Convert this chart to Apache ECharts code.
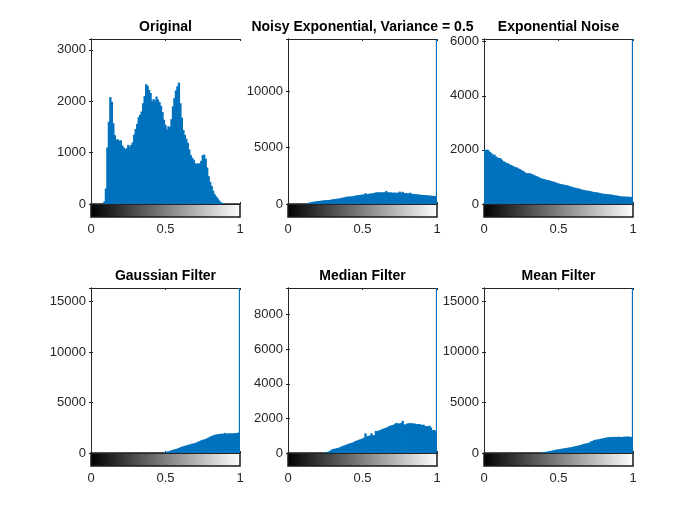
<!DOCTYPE html>
<html>
<head>
<meta charset="utf-8">
<script src="https://cdn.jsdelivr.net/npm/echarts@6/dist/echarts.min.js"></script>
<style>
  html, body { margin: 0; padding: 0; background: #fff; }
  #main { width: 700px; height: 525px; }
</style>
</head>
<body>
<div id="main"></div>
<script>
// histogram heights, one per bin (bins at 0, 0.01, ... 1)
var original = [0,0,0,0,0,0,0,0,0,
  50,300,1100,1600,2080,1990,1570,1340,1250,1260,1230,1240,1140,1100,1065,1085,1150,1110,1150,1200,1350,
  1460,1560,1690,1735,1800,1960,2100,2330,2300,2220,2160,2000,2040,2010,2090,2030,1980,1910,1790,1640,
  1540,1450,1510,1500,1650,1900,2060,2210,2290,2360,1960,1680,1440,1345,1270,1190,1060,950,900,860,
  795,780,790,790,840,950,960,880,710,540,430,350,260,190,150,115,70,40,20,8,
  0,0,0,0,0,0,0,0,0,0,0];

var noisyExp = [0,0,0,0,0,0,0,0,0,0,0,0,0,
  60,100,150,170,200,215,240,255,270,285,300,320,340,345,350,360,380,415,430,450,465,475,500,540,570,590,
  640,650,660,675,680,700,740,760,780,800,820,830,845,950,880,900,915,940,950,980,1030,1035,1030,1040,1035,
  1030,1040,1150,1035,1030,1025,1010,1000,1005,1000,995,1100,990,1080,975,960,950,940,1000,910,890,880,860,
  850,840,820,805,800,790,780,760,745,735,725,715,710,
  14630];

var expNoise = [2030,2000,2010,1990,1920,1880,1810,1830,1760,1720,1700,1690,1640,1580,1560,1520,1510,1470,1445,1420,
  1385,1370,1350,1320,1290,1260,1225,1200,1145,1140,1140,1135,1105,1090,1060,1040,1010,985,960,935,
  930,905,895,880,870,850,835,820,800,780,760,745,735,720,710,700,690,670,650,635,
  615,600,590,580,565,545,530,520,505,495,490,480,465,450,440,435,430,415,405,390,
  380,375,370,360,355,350,345,335,320,315,305,295,280,278,275,272,270,268,265,262,
  6100];

var gaussFilt = [0,0,0,0,0,0,0,0,0,0,0,0,0,0,0,0,0,0,0,0,0,0,0,0,0,
  0,0,0,0,0,0,0,0,0,0,0,0,0,0,0,0,0,0,0,0,0,0,0,0,0,
  100,130,160,210,260,320,350,400,430,495,560,620,660,710,740,800,830,880,925,950,
  985,1050,1120,1180,1250,1300,1350,1385,1460,1530,1620,1690,1740,1790,1830,1860,1880,1900,1915,1915,
  1990,1915,1920,1960,1925,1950,1960,1975,1990,2010,
  16340];

var medianFilt = [0,0,0,0,0,0,0,0,0,0,0,0,0,0,0,0,0,0,0,0,0,0,0,0,0,
  40,60,80,110,170,230,240,260,280,300,340,380,410,440,480,500,540,570,590,620,680,710,740,780,800,
  840,880,1140,960,990,1000,1140,1020,1040,1280,1260,1300,1320,1380,1400,1440,1460,1500,1560,1580,
  1610,1640,1700,1740,1690,1720,1740,1860,1640,1660,1700,1720,1720,1720,1710,1700,1680,1660,1680,1650,
  1620,1640,1560,1560,1540,1580,1480,1320,1340,1280,
  9540];

var meanFilt = [0,0,0,0,0,0,0,0,0,0,0,0,0,0,0,0,0,0,0,0,0,0,0,0,0,0,0,0,0,0,0,0,0,0,0,0,0,0,0,
  65,90,110,130,160,180,210,240,280,310,340,360,380,410,440,460,480,510,540,560,580,
  620,660,700,720,760,800,840,900,930,950,990,1060,1150,1200,1270,1310,1330,1350,1390,1420,
  1450,1480,1520,1550,1560,1580,1590,1585,1590,1585,1600,1590,1585,1590,1610,1620,1610,1630,1600,1585,
  16300];

var titles = ['Original', 'Noisy Exponential, Variance = 0.5', 'Exponential Noise',
              'Gaussian Filter', 'Median Filter', 'Mean Filter'];
var series_ = [original, noisyExp, expNoise, gaussFilt, medianFilt, meanFilt];
var yMax = [3210, 14630, 6100, 16340, 9540, 16300];
var yStep = [1000, 5000, 2000, 5000, 2000, 5000];
var xTicks = [0, 0.5, 1];

var FONT = 'Liberation Sans, Arial, Helvetica, sans-serif';
var INK = '#262626';
var BLUE = '#0072BD';
var colLeft = [91, 288, 484];
var rowTop = [39, 288];
var plotW = 149, plotH = 165, barH = 13;

var option = {
  animation: false,
  backgroundColor: '#fff',
  title: [], grid: [], xAxis: [], yAxis: [], series: []
};

// one rect per bin, half a bin either side of its centre (a hair wider so neighbours touch)
function histBar(half) {
  return function (params, api) {
    var x = api.value(0), v = api.value(1);
    if (!v) return null;
    var p0 = api.coord([x - half, v]);
    var p1 = api.coord([x + half, 0]);
    var cs = params.coordSys;
    var rect = echarts.graphic.clipRectByRect(
      { x: p0[0] - 0.4, y: p0[1], width: p1[0] - p0[0] + 0.8, height: p1[1] - p0[1] },
      { x: cs.x, y: cs.y, width: cs.width, height: cs.height });
    if (!rect) return null;
    return { type: 'rect', shape: rect, style: { fill: BLUE } };
  };
}

series_.forEach(function (vals, k) {
  var left = colLeft[k % 3];
  var top = rowTop[Math.floor(k / 3)];
  var n = vals.length;
  var pts = vals.map(function (v, i) { return [i / (n - 1), v]; });

  option.title.push({
    text: titles[k], left: left + plotW / 2, top: top - 19, textAlign: 'center', padding: 0,
    textStyle: { fontFamily: FONT, fontSize: 14, fontWeight: 'bold', color: '#000' }
  });

  var gHist = option.grid.length;
  option.grid.push({ left: left, top: top, width: plotW, height: plotH, outerBoundsMode: 'none' });
  var gBar = option.grid.length;
  option.grid.push({
    left: left, top: top + plotH, width: plotW, height: barH, outerBoundsMode: 'none',
    show: true, borderColor: '#1a1a1a', borderWidth: 1.5,
    backgroundColor: { type: 'linear', x: 0, y: 0, x2: 1, y2: 0,
      colorStops: [{ offset: 0, color: '#000' }, { offset: 1, color: '#fff' }] }
  });

  var edgeX = function (pos) {
    return {
      type: 'value', gridIndex: gHist, position: pos, min: 0, max: 1, interval: 0.5,
      axisLine: { show: true, onZero: false, lineStyle: { color: INK, width: 1 } },
      axisTick: { show: true, inside: true, length: 2, lineStyle: { color: INK } },
      axisLabel: { show: false }, splitLine: { show: false }
    };
  };
  var xi = option.xAxis.length;
  option.xAxis.push(edgeX('bottom'), edgeX('top'));
  option.xAxis.push({
    type: 'value', gridIndex: gBar, min: 0, max: 1, interval: 0.5,
    axisLine: { show: false }, axisTick: { show: false }, splitLine: { show: false },
    axisLabel: { margin: 6, fontFamily: FONT, fontSize: 13, color: INK,
      formatter: function (v) { return xTicks.indexOf(v) >= 0 ? String(v) : ''; } }
  });

  var edgeY = function (pos, labels) {
    return {
      type: 'value', gridIndex: gHist, position: pos, min: 0, max: yMax[k], interval: yStep[k],
      axisLine: { show: true, lineStyle: { color: INK, width: 1 } },
      axisTick: { show: true, inside: true, length: 2, lineStyle: { color: INK } },
      axisLabel: { show: labels, showMaxLabel: false, margin: 5, fontFamily: FONT, fontSize: 13, color: INK,
        formatter: function (v) { return String(v); } },
      splitLine: { show: false }
    };
  };
  var yi = option.yAxis.length;
  option.yAxis.push(edgeY('left', true), edgeY('right', false));
  option.yAxis.push({ type: 'value', gridIndex: gBar, min: 0, max: 1, show: false });

  option.series.push({
    type: 'custom', xAxisIndex: xi, yAxisIndex: yi, data: pts,
    renderItem: histBar(0.5 / (n - 1)), z: 3
  });
});

var chart = echarts.init(document.getElementById('main'), null, { renderer: 'canvas' });
chart.setOption(option);
</script>
</body>
</html>
